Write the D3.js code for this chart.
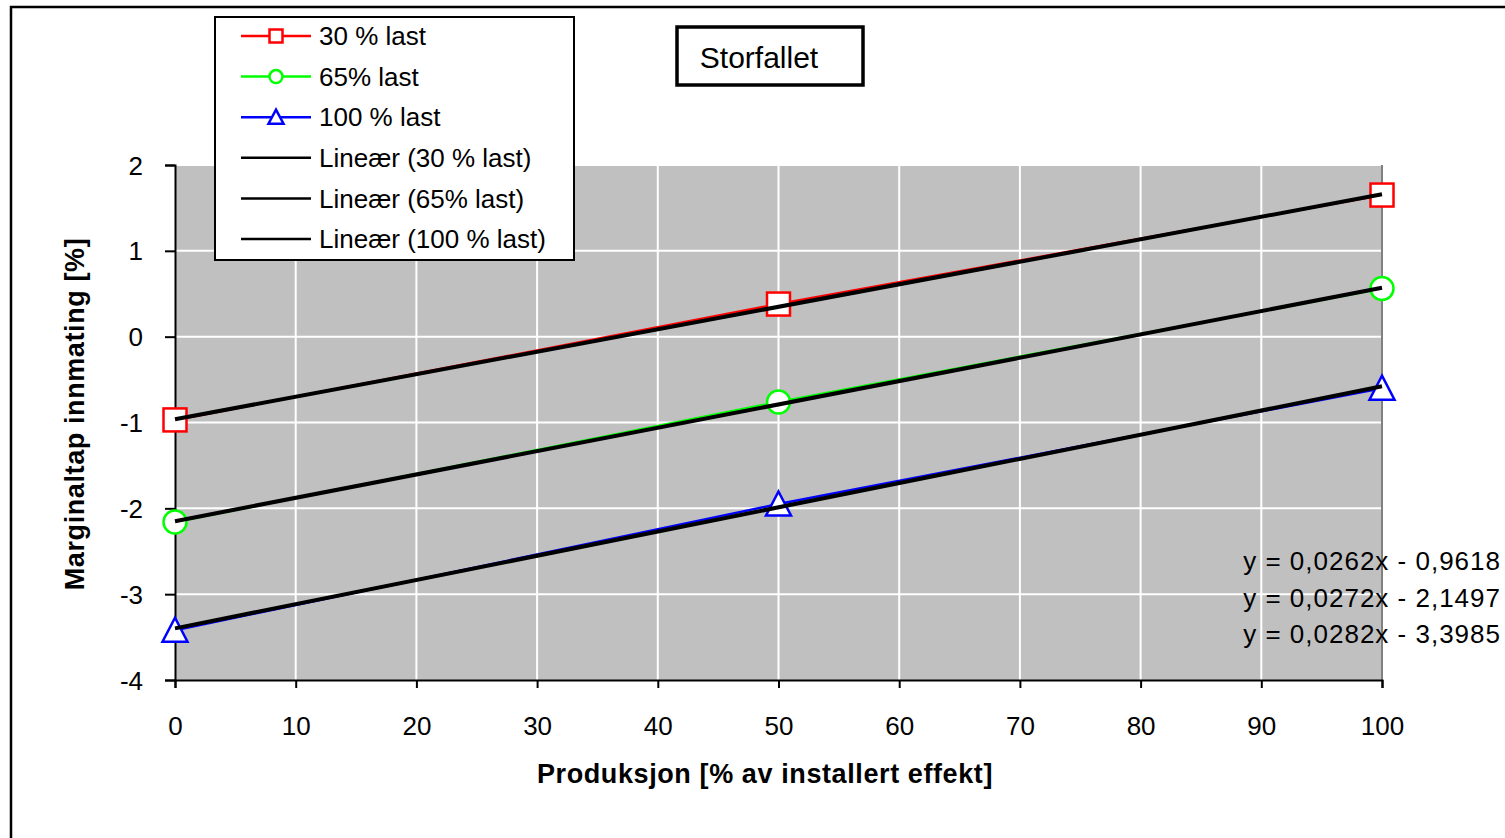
<!DOCTYPE html>
<html>
<head>
<meta charset="utf-8">
<script src="https://cdn.jsdelivr.net/npm/d3@7/dist/d3.min.js"></script>
<style>
  body { margin: 0; background: #fff; }
  text { font-family: "Liberation Sans", Arial, sans-serif; }
</style>
</head>
<body>
<div id="chart"></div>
<script>
const xValues = [0, 50, 100];
const seriesNames = ["30 % last", "65% last", "100 % last"];
const load30 = [-0.97, 0.38, 1.65];
const load65 = [-2.16, -0.76, 0.56];
const load100 = [-3.42, -1.95, -0.60];
const slopes = [0.0262, 0.0272, 0.0282];
const intercepts = [-0.9618, -2.1497, -3.3985];
const trendNames = ["Lineær (30 % last)", "Lineær (65% last)", "Lineær (100 % last)"];
const equations = ["y = 0,0262x - 0,9618", "y = 0,0272x - 2,1497", "y = 0,0282x - 3,3985"];
const xTicks = [0, 10, 20, 30, 40, 50, 60, 70, 80, 90, 100];
const yTicks = [-4, -3, -2, -1, 0, 1, 2];

const colors = ["#FF0000", "#00FF00", "#0000FF"];
const markers = ["square", "circle", "triangle"];
const series = [load30, load65, load100];

const width = 1505;
const height = 838;

const svg = d3.select("#chart").append("svg")
    .attr("width", width)
    .attr("height", height);

// outer chart frame
svg.append("rect")
    .attr("x", 11).attr("y", 7)
    .attr("width", 1510).attr("height", 840)
    .attr("fill", "#fff")
    .attr("stroke", "#000")
    .attr("stroke-width", 2.5);

const plot = { left: 175, right: 1382, top: 165, bottom: 680 };

const x = d3.scaleLinear().domain([0, 100]).range([plot.left, plot.right]);
const y = d3.scaleLinear().domain([-4, 2]).range([plot.bottom, plot.top]);

// plot area
svg.append("rect")
    .attr("x", plot.left).attr("y", plot.top)
    .attr("width", plot.right - plot.left).attr("height", plot.bottom - plot.top)
    .attr("fill", "#C0C0C0");

svg.append("g")
    .selectAll("line")
    .data(xTicks.slice(1))
    .enter().append("line")
    .attr("x1", d => x(d)).attr("x2", d => x(d))
    .attr("y1", plot.top).attr("y2", plot.bottom)
    .attr("stroke", "#fff").attr("stroke-width", 2);

svg.append("g")
    .selectAll("line")
    .data(yTicks.slice(1))
    .enter().append("line")
    .attr("x1", plot.left).attr("x2", plot.right)
    .attr("y1", d => y(d)).attr("y2", d => y(d))
    .attr("stroke", "#fff").attr("stroke-width", 2);

// right edge of plot area
svg.append("line")
    .attr("x1", plot.right).attr("x2", plot.right)
    .attr("y1", plot.top).attr("y2", plot.bottom)
    .attr("stroke", "#808080").attr("stroke-width", 2);

// axes
const xAxis = d3.axisBottom(x).tickValues(xTicks).tickSize(8).tickPadding(29).tickFormat(d3.format("d"));
const yAxis = d3.axisLeft(y).tickValues(yTicks).tickSize(10).tickPadding(22).tickFormat(d => String(d));

const gx = svg.append("g")
    .attr("transform", `translate(0, ${plot.bottom})`)
    .call(xAxis);
const gy = svg.append("g")
    .attr("transform", `translate(${plot.left}, 0)`)
    .call(yAxis);

[gx, gy].forEach(g => {
    g.select(".domain").attr("stroke", "#000").attr("stroke-width", 2);
    g.selectAll(".tick line").attr("stroke", "#000").attr("stroke-width", 2);
    g.selectAll(".tick text")
        .style("font-family", "Liberation Sans, Arial, sans-serif")
        .style("font-size", "26px")
        .attr("fill", "#000");
});
gy.selectAll(".tick text").attr("dy", "0.35em");

// axis titles
svg.append("text")
    .attr("x", 765)
    .attr("y", 783)
    .attr("text-anchor", "middle")
    .style("font-size", "27px")
    .style("font-weight", "bold")
    .style("letter-spacing", "0.6px")
    .text("Produksjon [% av installert effekt]");

svg.append("text")
    .attr("transform", `translate(84, 414) rotate(-90)`)
    .attr("text-anchor", "middle")
    .style("font-size", "27px")
    .style("font-weight", "bold")
    .style("letter-spacing", "0.6px")
    .text("Marginaltap innmating [%]");

// data lines
const line = d3.line()
    .x((d, i) => x(xValues[i]))
    .y(d => y(d));

series.forEach((s, k) => {
    svg.append("path")
        .datum(s)
        .attr("d", line)
        .attr("fill", "none")
        .attr("stroke", colors[k])
        .attr("stroke-width", 2.5);
});

// markers
function drawMarker(g, type, cx, cy, color, size) {
    if (type === "square") {
        g.append("rect")
            .attr("x", cx - size / 2).attr("y", cy - size / 2)
            .attr("width", size).attr("height", size)
            .attr("fill", "#fff").attr("stroke", color).attr("stroke-width", 2.5);
    } else if (type === "circle") {
        g.append("circle")
            .attr("cx", cx).attr("cy", cy).attr("r", size / 2)
            .attr("fill", "#fff").attr("stroke", color).attr("stroke-width", 2.5);
    } else {
        const h = size;
        g.append("path")
            .attr("d", `M${cx},${cy - h / 2 - 1} L${cx + h / 2 + 1},${cy + h / 2} L${cx - h / 2 - 1},${cy + h / 2} Z`)
            .attr("fill", "#fff").attr("stroke", color).attr("stroke-width", 2.5);
    }
}

const markerLayer = svg.append("g");
series.forEach((s, k) => {
    s.forEach((v, i) => {
        drawMarker(markerLayer, markers[k], x(xValues[i]), y(v), colors[k], 23);
    });
});

// trendlines
slopes.forEach((m, k) => {
    svg.append("line")
        .attr("x1", x(0)).attr("y1", y(intercepts[k]))
        .attr("x2", x(100)).attr("y2", y(intercepts[k] + m * 100))
        .attr("stroke", "#000")
        .attr("stroke-width", 4);
});

// trendline equations
equations.forEach((t, k) => {
    svg.append("text")
        .attr("x", 1501)
        .attr("y", 570 + k * 36.5)
        .attr("text-anchor", "end")
        .style("font-size", "26px")
        .style("letter-spacing", "1px")
        .text(t);
});

// legend
const legend = svg.append("g");
legend.append("rect")
    .attr("x", 215).attr("y", 17)
    .attr("width", 359).attr("height", 243)
    .attr("fill", "#fff")
    .attr("stroke", "#000")
    .attr("stroke-width", 2);

const legendItems = seriesNames.map((n, k) => ({ name: n, color: colors[k], marker: markers[k] }))
    .concat(trendNames.map(n => ({ name: n, color: "#000", marker: null })));

legendItems.forEach((d, i) => {
    const ly = 36 + i * 40.6;
    legend.append("line")
        .attr("x1", 241).attr("x2", 311)
        .attr("y1", ly).attr("y2", ly)
        .attr("stroke", d.color)
        .attr("stroke-width", 2.5);
    if (d.marker) drawMarker(legend, d.marker, 276, ly, d.color, 13);
    legend.append("text")
        .attr("x", 319).attr("y", ly)
        .attr("dy", "0.35em")
        .style("font-size", "26px")
        .text(d.name);
});

// title box
svg.append("rect")
    .attr("x", 677).attr("y", 27)
    .attr("width", 186).attr("height", 58)
    .attr("fill", "#fff")
    .attr("stroke", "#000")
    .attr("stroke-width", 3.5);
svg.append("text")
    .attr("x", 759).attr("y", 57)
    .attr("dy", "0.35em")
    .attr("text-anchor", "middle")
    .style("font-size", "30px")
    .text("Storfallet");
</script>
</body>
</html>
